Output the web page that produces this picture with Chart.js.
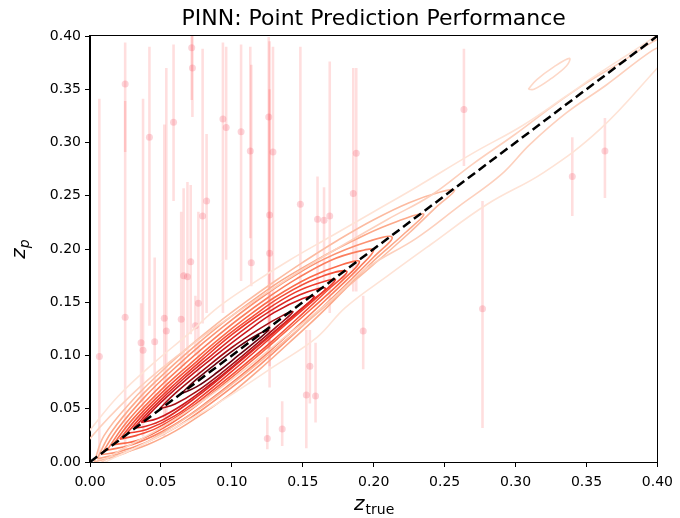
<!DOCTYPE html>
<html>
<head>
<meta charset="utf-8">
<script src="https://cdn.jsdelivr.net/npm/chart.js@4"></script>
<style>
  html, body { margin: 0; padding: 0; background: #fff; }
  canvas { display: block; }
</style>
</head>
<body>
<canvas id="c" width="680" height="518"></canvas>
<script>
// ---------------- DATA ----------------
const titleText = "PINN: Point Prediction Performance";
const tickValues = [0.00, 0.05, 0.10, 0.15, 0.20, 0.25, 0.30, 0.35, 0.40];

// point predictions with uncertainty intervals
const zTrue = [0.0066,0.0248,0.0248,0.0360,0.0374,0.0419,0.0456,0.0524,0.0538,0.0589,
               0.0643,0.0660,0.0687,0.0710,0.0717,0.0722,0.0743,0.0764,0.0794,0.0822,
               0.0937,0.0960,0.1065,0.1130,0.1137,0.1260,0.1266,0.1266,0.1290,0.1250,
               0.1355,0.1483,0.1525,0.1550,0.1590,0.1604,0.1650,0.1690,0.1856,0.1877,
               0.1926,0.2636,0.2767,0.3400,0.3630];
const zPred = [0.099,0.355,0.136,0.112,0.105,0.305,0.113,0.135,0.123,0.319,
               0.134,0.175,0.174,0.188,0.389,0.370,0.128,0.149,0.231,0.245,
               0.322,0.314,0.310,0.292,0.187,0.324,0.232,0.196,0.291,0.022,
               0.031,0.242,0.063,0.090,0.062,0.228,0.227,0.231,0.252,0.290,
               0.123,0.331,0.144,0.268,0.292];
const zLow  = [0.002,0.291,0.012,0.056,0.024,0.128,0.055,0.024,0.040,0.245,
               0.087,0.090,0.100,0.120,0.340,0.324,0.100,0.080,0.130,0.140,
               0.140,0.190,0.170,0.210,0.165,0.100,0.070,0.090,0.140,0.012,
               0.015,0.164,0.013,0.055,0.037,0.160,0.170,0.140,0.160,0.160,
               0.087,0.278,0.032,0.231,0.248];
const zHigh = [0.341,0.394,0.339,0.149,0.341,0.390,0.192,0.317,0.370,0.392,
               0.235,0.257,0.263,0.260,0.420,0.410,0.156,0.235,0.388,0.308,
               0.394,0.390,0.392,0.390,0.373,0.399,0.395,0.350,0.390,0.042,
               0.057,0.390,0.124,0.124,0.112,0.268,0.258,0.376,0.370,0.370,
               0.156,0.388,0.245,0.305,0.323];

// identity reference line
const identityLine = [[0.0, 0.0], [0.4, 0.4]];

// density contour lines (outer -> inner)
const contourC = [[0.0,0.030],[0.02,0.062],[0.045,0.093],[0.07,0.121],[0.09,0.145],[0.115,0.168],[0.14,0.189],[0.17,0.212],[0.2,0.235],[0.23,0.258],[0.27,0.290],[0.305,0.316],[0.335,0.343],[0.36,0.366],[0.382,0.385],[0.4,0.401],[0.41,0.41],
                  [0.41,0.385],[0.4,0.370],[0.36,0.313],[0.32,0.272],[0.28,0.242],[0.24,0.204],[0.21,0.175],[0.18,0.145],[0.16,0.117],[0.13,0.090],[0.09,0.055],[0.05,0.025],[0.02,0.006],[0.0,-0.005],[-0.01,0.0],[0.0,0.030]];
const contourD = [[-0.01,0.0],[0.0,0.022],[0.03,0.064],[0.06,0.098],[0.09,0.128],[0.12,0.155],[0.15,0.181],[0.18,0.205],[0.21,0.228],[0.24,0.250],[0.27,0.280],[0.30,0.308],[0.326,0.334],[0.35,0.356],[0.375,0.376],[0.40,0.397],[0.41,0.40],
                  [0.41,0.395],[0.396,0.386],[0.364,0.354],[0.336,0.328],[0.31,0.298],[0.29,0.270],[0.26,0.240],[0.23,0.210],[0.195,0.182],[0.17,0.152],[0.14,0.120],[0.11,0.088],[0.08,0.058],[0.05,0.032],[0.02,0.010],[0.0,-0.005],[-0.01,0.0]];
const contourIsland = [[0.309,0.350],[0.315,0.359],[0.327,0.371],[0.338,0.379],[0.336,0.372],[0.325,0.360],[0.313,0.350],[0.309,0.350]];
const contourE = [[0.003,0.0],[0.01,0.025],[0.03,0.058],[0.05,0.0845],[0.07,0.1085],[0.09,0.1305],[0.11,0.1505],[0.13,0.1695],[0.15,0.1875],[0.175,0.2085],[0.2,0.2275],[0.225,0.2435],[0.247,0.2535],[0.257,0.255],
                  [0.245,0.2405],[0.225,0.215],[0.2,0.1855],[0.175,0.157],[0.15,0.128],[0.125,0.100],[0.1,0.073],[0.075,0.048],[0.05,0.0265],[0.025,0.0085],[0.003,0.0]];
const contourEF = [[0.005,0.003],[0.015,0.028],[0.035,0.0605],[0.055,0.0865],[0.075,0.110],[0.095,0.132],[0.115,0.152],[0.135,0.1705],[0.16,0.190],[0.185,0.2075],[0.21,0.2225],[0.235,0.233],
                   [0.222,0.215],[0.2,0.189],[0.18,0.1625],[0.16,0.136],[0.14,0.1115],[0.12,0.0875],[0.1,0.065],[0.08,0.046],[0.06,0.029],[0.04,0.016],[0.02,0.0075],[0.005,0.003]];
const contourF = [[0.008,0.007],[0.02,0.032],[0.04,0.063],[0.06,0.0885],[0.08,0.112],[0.10,0.1335],[0.12,0.1535],[0.14,0.1715],[0.165,0.1905],[0.195,0.2065],[0.213,0.211],
                  [0.2,0.1925],[0.18,0.166],[0.16,0.1405],[0.14,0.1155],[0.12,0.0915],[0.10,0.070],[0.08,0.050],[0.06,0.032],[0.04,0.0185],[0.02,0.0095],[0.008,0.007]];
const contourFG = [[0.012,0.011],[0.025,0.036],[0.045,0.065],[0.065,0.090],[0.085,0.113],[0.105,0.1345],[0.125,0.154],[0.145,0.1715],[0.17,0.1895],[0.19,0.198],[0.2,0.199],
                   [0.19,0.183],[0.17,0.157],[0.15,0.132],[0.13,0.108],[0.11,0.085],[0.09,0.064],[0.07,0.044],[0.05,0.028],[0.03,0.0165],[0.012,0.011]];
const contourG = [[0.016,0.016],[0.03,0.040],[0.05,0.0675],[0.07,0.0915],[0.09,0.1145],[0.11,0.1355],[0.13,0.1545],[0.155,0.1735],[0.178,0.1855],[0.19,0.188],
                  [0.178,0.1705],[0.155,0.1425],[0.135,0.119],[0.115,0.096],[0.095,0.074],[0.075,0.053],[0.055,0.0345],[0.035,0.021],[0.016,0.016]];
const contourGH = [[0.021,0.0215],[0.035,0.044],[0.055,0.0705],[0.075,0.094],[0.095,0.117],[0.115,0.137],[0.135,0.1555],[0.16,0.1725],[0.181,0.179],
                   [0.168,0.162],[0.148,0.137],[0.128,0.113],[0.108,0.0905],[0.088,0.069],[0.068,0.0485],[0.048,0.0325],[0.033,0.025],[0.021,0.0215]];
const contourH = [[0.026,0.027],[0.04,0.048],[0.06,0.0735],[0.08,0.097],[0.10,0.1195],[0.12,0.139],[0.145,0.1595],[0.165,0.1695],[0.173,0.171],
                  [0.16,0.1545],[0.14,0.1315],[0.12,0.108],[0.10,0.085],[0.08,0.063],[0.06,0.0435],[0.04,0.0305],[0.026,0.027]];
const contourHI = [[0.031,0.032],[0.045,0.052],[0.065,0.077],[0.085,0.0995],[0.105,0.121],[0.125,0.140],[0.148,0.157],[0.166,0.163],
                   [0.152,0.147],[0.132,0.124],[0.112,0.1015],[0.092,0.079],[0.072,0.058],[0.052,0.040],[0.038,0.033],[0.031,0.032]];
const contourI = [[0.036,0.037],[0.05,0.056],[0.07,0.080],[0.09,0.1015],[0.11,0.122],[0.13,0.1405],[0.15,0.1535],[0.158,0.155],
                  [0.145,0.1395],[0.125,0.117],[0.105,0.0945],[0.085,0.073],[0.065,0.0535],[0.048,0.041],[0.036,0.037]];
const contourJ = [[0.049,0.050],[0.06,0.0645],[0.08,0.0865],[0.10,0.1075],[0.12,0.1255],[0.135,0.137],[0.143,0.141],
                  [0.132,0.1275],[0.115,0.108],[0.095,0.086],[0.075,0.066],[0.06,0.0545],[0.049,0.050]];
const contourK = [[0.064,0.064],[0.075,0.0775],[0.09,0.0935],[0.105,0.1085],[0.118,0.1195],[0.126,0.124],
                  [0.117,0.1135],[0.105,0.1005],[0.09,0.0845],[0.075,0.0705],[0.064,0.064]];

// ---------------- STYLE ----------------
const contourSets = [
  { pts: contourC, color: '#fee3d6' },
  { pts: contourD, color: '#fdd0bd' },
  { pts: contourIsland, color: '#fdd8c8' },
  { pts: contourE, color: '#fcbba1' },
  { pts: contourEF, color: '#fca98a' },
  { pts: contourF, color: '#fc9272' },
  { pts: contourFG, color: '#fb7e5e' },
  { pts: contourG, color: '#fb6a4a' },
  { pts: contourGH, color: '#f4503a' },
  { pts: contourH, color: '#ef3b2c' },
  { pts: contourHI, color: '#dd2a25' },
  { pts: contourI, color: '#cb181d' },
  { pts: contourJ, color: '#a50f15' },
  { pts: contourK, color: '#67000d' }
];
const FONT = "'DejaVu Sans', 'Liberation Sans', sans-serif";

const toXY = arr => arr.map(p => ({ x: p[0], y: p[1] }));

const datasets = [];
datasets.push({
  type: 'scatter',
  label: 'points',
  data: zTrue.map((x, i) => ({ x: x, y: zPred[i] })),
  pointRadius: 3.5,
  pointBorderWidth: 0,
  backgroundColor: 'rgba(240,60,80,0.22)',
  borderColor: 'rgba(0,0,0,0)',
  order: 5
});
contourSets.forEach((c, i) => {
  datasets.push({
    type: 'line',
    label: 'contour' + i,
    data: toXY(c.pts),
    borderColor: c.color,
    borderWidth: 1.6,
    pointRadius: 0,
    fill: false,
    tension: 0.4,
    order: 4
  });
});
datasets.push({
  type: 'line',
  label: 'identity',
  data: toXY(identityLine),
  borderColor: '#000',
  borderWidth: 2.5,
  borderDash: [9, 4.5],
  pointRadius: 0,
  fill: false,
  order: 0
});

const decor = {
  id: 'decor',
  beforeDatasetsDraw(chart) {
    const { ctx, chartArea: a, scales: { x, y } } = chart;
    ctx.save();
    ctx.beginPath();
    ctx.rect(a.left, a.top, a.right - a.left, a.bottom - a.top);
    ctx.clip();
    ctx.strokeStyle = 'rgba(255,0,0,0.13)';
    ctx.lineWidth = 2.6;
    for (let i = 0; i < zTrue.length; i++) {
      const px = x.getPixelForValue(zTrue[i]);
      ctx.beginPath();
      ctx.moveTo(px, y.getPixelForValue(zLow[i]));
      ctx.lineTo(px, y.getPixelForValue(zHigh[i]));
      ctx.stroke();
    }
    ctx.restore();
  },
  afterDraw(chart) {
    const { ctx, chartArea: a } = chart;
    ctx.save();
    ctx.strokeStyle = '#000';
    ctx.lineWidth = 1;
    ctx.strokeRect(Math.round(a.left) - 0.5, Math.round(a.top) - 0.5, Math.round(a.right - a.left) + 1, Math.round(a.bottom - a.top) + 1);
    ctx.fillStyle = '#000';
    ctx.textAlign = 'center';
    ctx.textBaseline = 'alphabetic';
    ctx.font = '22px ' + FONT;
    ctx.fillText(titleText, (a.left + a.right) / 2, 25);
    ctx.textAlign = 'left';
    const zFont = 'italic 20px ' + FONT, subFont = '14px ' + FONT;
    ctx.font = zFont; const wz = ctx.measureText('z').width;
    ctx.font = subFont; const wt = ctx.measureText('true').width;
    let sx = (a.left + a.right) / 2 - (wz + wt) / 2;
    ctx.font = zFont; ctx.fillText('z', sx, 510);
    ctx.font = subFont; ctx.fillText('true', sx + wz + 1, 514);
    ctx.translate(25, (a.top + a.bottom) / 2);
    ctx.rotate(-Math.PI / 2);
    ctx.font = zFont; const wz2 = ctx.measureText('z').width;
    const subItalic = 'italic 14px ' + FONT;
    ctx.font = subItalic; const wp = ctx.measureText('p').width;
    sx = -(wz2 + wp) / 2;
    ctx.font = zFont; ctx.fillText('z', sx, 0);
    ctx.font = subItalic; ctx.fillText('p', sx + wz2, 4);
    ctx.restore();
  }
};

const axisCommon = (pos, pad) => ({
  type: 'linear',
  position: pos,
  min: 0, max: 0.4,
  afterBuildTicks: (s) => { s.ticks = tickValues.map(v => ({ value: v })); },
  ticks: {
    callback: (v) => Number(v).toFixed(2),
    color: '#000',
    font: { family: FONT, size: 14 },
    padding: pad,
    maxRotation: 0,
    autoSkip: false
  },
  grid: { display: true, drawOnChartArea: false, drawTicks: true, tickLength: 5, tickColor: '#000', tickWidth: 1 },
  border: { display: true, color: '#000', width: 1 }
});

const xAxis = axisCommon('bottom', 7);
xAxis.afterFit = (s) => { s.height = 56; };
const yAxis = axisCommon('left', 4);
yAxis.afterFit = (s) => { s.width = 90; };

new Chart(document.getElementById('c'), {
  type: 'scatter',
  data: { datasets },
  options: {
    responsive: false,
    animation: false,
    layout: { padding: { top: 36, right: 18, left: 0, bottom: 0 } },
    plugins: { legend: { display: false }, tooltip: { enabled: false }, title: { display: false } },
    scales: { x: xAxis, y: yAxis }
  },
  plugins: [decor]
});
</script>
</body>
</html>
